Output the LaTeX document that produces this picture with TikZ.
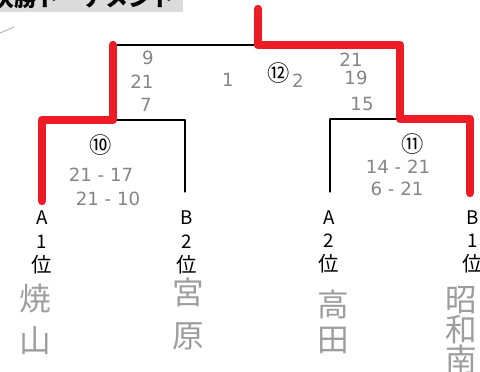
\documentclass[tikz,border=0pt]{standalone}
\usepackage{fontspec}
\setmainfont{Noto Sans CJK JP}
\newfontfamily\penfont{DejaVu Sans}
\usepackage{tkz-euclide}
\usetikzlibrary{calc}
\definecolor{WinClr}{rgb}{0.93,0.11,0.14}
\definecolor{PenClr}{gray}{0.52}
\definecolor{TitleClr}{gray}{0.86}

\begin{document}
\begin{tikzpicture}[x=0.03cm,y=-0.03cm,
  win/.style={line width=7.2pt,color=WinClr,line cap=round,line join=round},
  pen/.style={font=\penfont\fontsize{15.5}{15.5}\selectfont,text=PenClr,inner sep=0pt},
  teamname/.style={font=\fontsize{27}{#1}\selectfont,text=PenClr!80,align=center,inner sep=0pt},
  seat/.style={font=\fontsize{16}{16}\selectfont,inner sep=0pt},
  rank/.style={font=\fontsize{17.5}{17.5}\selectfont,inner sep=0pt},
  game/.style={font=\fontsize{19}{19}\selectfont,inner sep=0pt}]
\useasboundingbox (0,0) rectangle (480,372);
\clip (0,0) rectangle (480,372);

% title strip, cut off at the top
\fill[TitleClr] (0,0) rectangle (183,12);
\node[anchor=base west,inner sep=0pt,font=\bfseries\fontsize{19.5}{19.5}\selectfont] (title) at (-9,7) {決勝トーナメント};
\draw[PenClr!60,line width=0.8pt] (0,33) -- (14,27);

\tkzDefPoints{258/9/T,258/45/M,113/45/LT,400/45/RT,
  113/120/LM,42/120/LL,185/120/LR,400/119/RM,330/119/RL,470/119/RR,
  42/201/A1,185/192/B2,330/192/A2,470/193/B1}

% bracket
\tkzDrawSegments[line width=1pt,color=black](LT,RT LL,LR LR,B2 RL,RR RL,A2)
\tkzDrawPolySeg[win](LT,LM,LL,A1)
\tkzDrawPolySeg[win](T,M,RT,RM,RR,B1)

% seats
\node[seat] (sa) at (42,218) {A};
\node[seat] (sb) at (187,218) {B};
\node[seat] (sc) at (329,218) {A};
\node[seat] (sd) at (473,218) {B};
\node[seat] (ra) at (42,242) {1};
\node[seat] (rb) at (187,242) {2};
\node[seat] (rc) at (329,241) {2};
\node[seat] (rd) at (473,241) {1};
\node[rank] (pa) at (42,265) {位};
\node[rank] (pb) at (187,265) {位};
\node[rank] (pc) at (329,264) {位};
\node[rank] (pd) at (473,264) {位};

% team names
\node[teamname=36pt] (ta) at (35,319) {焼\\山};
\node[teamname=36pt] (tb) at (188,314) {宮\\原};
\node[teamname=30pt] (tc) at (333,322) {高\\田};
\node[teamname=24pt] (td) at (461,330) {昭\\和\\南};

% games
\node[game] (g10) at (101,145) {⑩};
\node[game] (g11) at (413,144) {⑪};
\node[game] (g12) at (279,73) {⑫};

% scores
\node[pen] (s10a) at (101,175) {21 - 17};
\node[pen] (s10b) at (108,199) {21 - 10};
\node[pen] (s11a) at (398,167) {14 - 21};
\node[pen] (s11b) at (397,189) {6 - 21};
\node[pen] (l1) at (148,58) {9};
\node[pen] (l2) at (142,82) {21};
\node[pen] (l3) at (146,105) {7};
\node[pen] (r1) at (351,60) {21};
\node[pen] (r2) at (356,78) {19};
\node[pen] (r3) at (362,104) {15};
\node[pen] (w1) at (228,80) {1};
\node[pen] (w2) at (298,81) {2};
\end{tikzpicture}
\end{document}
